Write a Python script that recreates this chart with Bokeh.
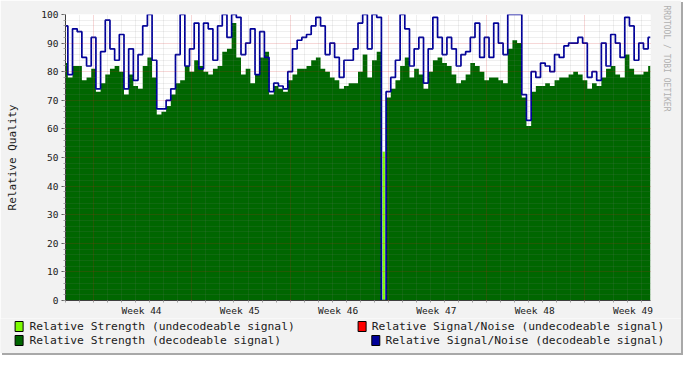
from bokeh.plotting import figure
from bokeh.layouts import column
from bokeh.models import (ColumnDataSource, FixedTicker, SingleIntervalTicker, Grid,
                          Title, Range1d)
from bokeh.core.properties import value
from bokeh.embed import file_html
from bokeh.resources import INLINE

# ---------------- data ----------------
# one sample every 8 hours over six weeks (hour 0 = start of chart)
hours = [8 * j for j in range(126)]

strength_dec = [83, 78, 82, 82, 77, 78, 81, 73, 76, 79, 81, 82, 80, 72, 79, 75, 74, 82, 85, 78,
                65, 66, 68, 72, 76, 77, 82, 80, 84, 82, 80, 79, 81, 82, 87, 88, 97, 85, 79, 81,
                76, 79, 85, 87, 72, 75, 74, 73, 77, 79, 81, 81, 82, 84, 85, 81, 80, 78, 77, 74,
                75, 76, 76, 80,
                86, 78, 84, 87, 0, 71, 74, 77, 82, 85, 78, 81, 79, 74, 80, 84, 85, 83, 82, 79,
                76, 77, 79, 83, 82, 80, 77, 78, 78, 77, 76, 88, 91, 90, 71, 61, 73, 75, 75, 76,
                75, 77, 78, 78, 79, 80, 79, 77, 74, 76, 75, 78, 81, 82, 79, 78, 86, 81, 79, 79,
                80, 82]

snr_dec = [96, 79, 95, 94, 85, 82, 92, 74, 87, 98, 88, 84, 93, 74, 88, 77, 86, 96, 100, 84,
           67, 67, 70, 74, 86, 100, 82, 88, 97, 81, 97, 95, 84, 96, 100, 92, 100, 99, 86, 90,
           95, 79, 94, 85, 73, 76, 75, 74, 80, 88, 91, 92, 93, 96, 99, 96, 86, 90, 85, 78,
           84, 84, 88, 97,
           100, 88, 100, 99, 0, 73, 78, 84, 100, 95, 82, 88, 92, 76, 88, 99, 92, 86, 92, 88,
           82, 86, 87, 92, 97, 85, 92, 85, 97, 90, 86, 100, 100, 100, 72, 63, 80, 78, 83, 82,
           80, 86, 85, 89, 90, 90, 92, 90, 78, 80, 77, 90, 82, 93, 90, 85, 99, 96, 84, 90,
           88, 92]

# the one moment the signal could not be decoded
undec_hours = [544]
undec_strength = [52]

week_starts = [48, 216, 384, 552, 720, 888]
label_hours = [130, 298, 466, 634, 802, 970]
week_labels = ["Week 44", "Week 45", "Week 46", "Week 47", "Week 48", "Week 49"]
day_hours = [d for d in range(0, 1001, 24)]

legend_texts = ["Relative Strength (undecodeable signal)",
                "Relative Strength  (decodeable signal)",
                "Relative Signal/Noise (undecodeable signal)",
                "Relative Signal/Noise (decodeable signal)"]
legend_colors = ["#7CFC00", "#006600", "#FF0000", "#000099"]

# ---------------- layout ----------------
W = 681
H_MAIN, H_LEG = 318, 35
L, R, T, B = 65, 30, 14, 17
FONT = "DejaVu Sans Mono"
BG = "#F2F2F2"

p = figure(width=W, height=H_MAIN, output_backend="svg", toolbar_location=None,
           x_range=Range1d(0, 1000), y_range=Range1d(0, 100),
           min_border_left=L, min_border_right=R, min_border_top=T, min_border_bottom=B)
p.frame_align = False
p.background_fill_color = "white"
p.border_fill_color = BG
p.outline_line_color = None

src = ColumnDataSource(dict(hours=hours, strength=strength_dec, snr=snr_dec))

p.varea_step(x="hours", y1=0, y2="strength", step_mode="center", fill_color="#006600", source=src)
p.vbar(x=undec_hours, top=undec_strength, bottom=0, width=4, fill_color="#7CFC00", line_color=None)
p.step(x="hours", y="snr", mode="center", line_color="#000099", line_width=1.7, source=src)

# ---------------- axes ----------------
p.xaxis.ticker = FixedTicker(ticks=label_hours, minor_ticks=day_hours)
p.xaxis.major_label_overrides = {h: lab for h, lab in zip(label_hours, week_labels)}
p.xaxis.major_tick_line_color = None
p.xaxis.major_tick_in = 0
p.xaxis.major_tick_out = 2
p.xaxis.minor_tick_in = 0
p.xaxis.minor_tick_out = 2
p.xaxis.minor_tick_line_color = "#A0A0A0"
p.xaxis.major_label_standoff = 2

p.yaxis.ticker = SingleIntervalTicker(interval=10, num_minor_ticks=5)
p.yaxis.major_tick_in = 0
p.yaxis.major_tick_out = 4
p.yaxis.minor_tick_in = 0
p.yaxis.minor_tick_out = 2
p.yaxis.major_tick_line_color = "#606060"
p.yaxis.minor_tick_line_color = "#A0A0A0"
p.yaxis.major_label_standoff = 3
p.yaxis.axis_label = "Relative Quality"
p.yaxis.axis_label_text_font = FONT
p.yaxis.axis_label_text_font_size = "11px"
p.yaxis.axis_label_text_font_style = "normal"
p.yaxis.axis_label_text_color = "#202020"
p.yaxis.axis_label_standoff = 19

for ax in (p.xaxis[0], p.yaxis[0]):
    ax.axis_line_color = "#404040"
    ax.major_label_text_font = FONT
    ax.major_label_text_font_size = "9.5px"
    ax.major_label_text_color = "#202020"

# ---------------- grids (drawn over the data, like RRDtool) ----------------
minor_vals = [v for v in range(2, 100, 2) if v % 10]
minor_days = [d for d in day_hours if d not in week_starts]

p.xgrid.ticker = FixedTicker(ticks=week_starts)
p.ygrid.ticker = SingleIntervalTicker(interval=10)
for g in (p.xgrid[0], p.ygrid[0]):
    g.grid_line_color = "#D02020"
    g.grid_line_alpha = 0.35
    g.grid_line_dash = "1 1"
    g.level = "overlay"

p.add_layout(Grid(dimension=0, ticker=FixedTicker(ticks=minor_days), grid_line_color="#808080",
                  grid_line_alpha=0.25, grid_line_dash="1 1", level="overlay"))
p.add_layout(Grid(dimension=1, ticker=FixedTicker(ticks=minor_vals), grid_line_color="#808080",
                  grid_line_alpha=0.25, grid_line_dash="1 1", level="overlay"))

# ---------------- right-hand credit ----------------
credit = Title(text="RRDTOOL / TOBI OETIKER", text_font=FONT, text_font_size="8px",
               text_color="#B0B0B0", text_font_style="normal", align="left",
               vertical_align="middle", offset=-9, standoff=20)
p.add_layout(credit, "right")

# ---------------- legend strip (its own small figure) ----------------
leg_sq_x = [14.6, 14.6, 357.6, 371.3]
leg_row_y = [8, 22, 8, 22]
leg_text_x = [29, 29, 371.3, 385]

q = figure(width=W, height=H_LEG, output_backend="svg", toolbar_location=None,
           x_range=Range1d(0, W), y_range=Range1d(H_LEG, 0),
           x_axis_location=None, y_axis_location=None,
           min_border=0, min_border_left=0, min_border_right=0,
           min_border_top=0, min_border_bottom=0)
q.frame_align = False
q.xgrid.visible = False
q.ygrid.visible = False
q.outline_line_color = None
q.background_fill_color = BG
q.border_fill_color = BG

q.quad(left=leg_sq_x, right=[x + 8 for x in leg_sq_x],
       top=[y - 5 for y in leg_row_y], bottom=[y + 5 for y in leg_row_y],
       fill_color=legend_colors, line_color="black", line_width=1)
q.text(x=leg_text_x, y=leg_row_y, text=legend_texts, text_font=value(FONT),
       text_font_size=value("11.3px"), text_baseline="middle", text_align="left",
       text_color="#202020")

layout = column(p, q, spacing=0)
layout.styles = {"box-shadow": "2px 2px 0 #A8A8A8"}
open("out.html", "w").write(file_html(layout, INLINE))
